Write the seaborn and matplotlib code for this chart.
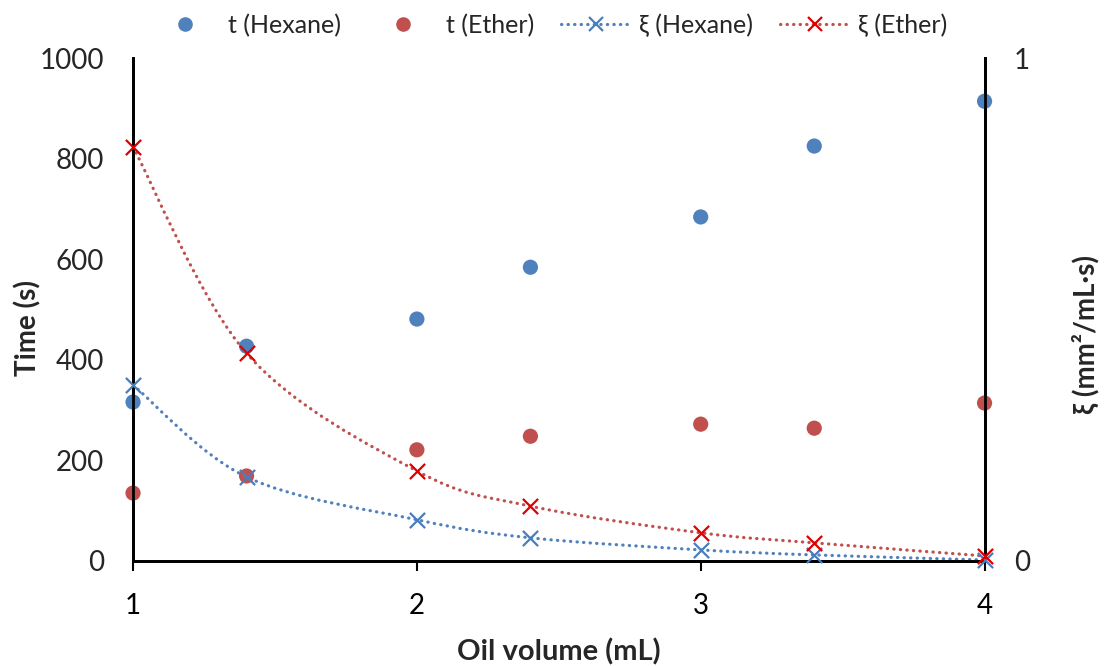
import numpy as np
import pandas as pd
import matplotlib
matplotlib.use("Agg")
import matplotlib.pyplot as plt
from matplotlib.path import Path
from matplotlib.patches import PathPatch
from matplotlib.lines import Line2D
import seaborn as sns

# Data
oil_volume = [1.0, 1.4, 2.0, 2.4, 3.0, 3.4, 4.0]
t_hexane = [316, 427, 481, 584, 684, 825, 914]
t_ether = [135, 169, 221, 248, 272, 264, 314]
xi_hexane = [0.350, 0.167, 0.082, 0.046, 0.022, 0.012, 0.002]
xi_ether = [0.823, 0.413, 0.179, 0.109, 0.056, 0.036, 0.010]

BLUE = "#4F81BD"
RED = "#C0504D"
BLUE_X = "#4A7EBB"
RED_X = "#E00000"
DOTS = (0, (0.1, 1.95))
DOT_LW = 2.3

sns.set_theme(style="white")
plt.rcParams["font.family"] = ["Lato", "DejaVu Sans"]

fig = plt.figure(figsize=(11.04, 6.66), dpi=100)
ax = fig.add_axes([0.1205, 0.1577, 0.7713, 0.7552])
ax2 = ax.twinx()

df = pd.DataFrame({"x": oil_volume, "hex": t_hexane, "eth": t_ether})
sns.scatterplot(data=df, x="x", y="hex", ax=ax, color=BLUE, s=120,
                edgecolor="none", zorder=3, clip_on=False)
sns.scatterplot(data=df, x="x", y="eth", ax=ax, color=RED, s=120,
                edgecolor="none", zorder=3, clip_on=False)


def smooth_path(xs, ys):
    """Cubic Bezier path through the points (Catmull-Rom style tangents)."""
    pts = np.column_stack([xs, ys]).astype(float)
    n = len(pts)
    verts = [pts[0]]
    codes = [Path.MOVETO]
    for i in range(n - 1):
        p0 = pts[i - 1] if i > 0 else pts[i]
        p1 = pts[i]
        p2 = pts[i + 1]
        p3 = pts[i + 2] if i + 2 < n else pts[i + 1]
        c1 = p1 + (p2 - p0) / 6.0
        c2 = p2 - (p3 - p1) / 6.0
        verts += [c1, c2, p2]
        codes += [Path.CURVE4] * 3
    return Path(verts, codes)


for ys, lc in [(xi_hexane, BLUE), (xi_ether, RED)]:
    patch = PathPatch(smooth_path(oil_volume, ys), facecolor="none",
                      edgecolor=lc, lw=DOT_LW, linestyle=DOTS,
                      capstyle="round", zorder=2)
    ax2.add_patch(patch)

ax2.scatter(oil_volume, xi_hexane, marker="x", s=120, color=BLUE_X,
            linewidths=1.6, zorder=4, clip_on=False)
ax2.scatter(oil_volume, xi_ether, marker="x", s=120, color=RED_X,
            linewidths=1.6, zorder=4, clip_on=False)

# Axes ranges and ticks
ax.set_xlim(1, 4)
ax.set_ylim(0, 1000)
ax2.set_ylim(0, 1)
ax.set_xticks([1, 2, 3, 4])
ax.set_yticks([0, 200, 400, 600, 800, 1000])
ax2.set_yticks([0, 1])
ax.tick_params(axis="x", direction="out", length=7, width=1.5, colors="black",
               labelsize=20, pad=16, bottom=True)
ax.tick_params(axis="y", length=0, labelsize=20, pad=21)
ax2.tick_params(axis="y", length=0, labelsize=20, pad=21)
for a in (ax, ax2):
    a.grid(False)
    a.spines["top"].set_visible(False)
    for s in ("left", "right", "bottom"):
        a.spines[s].set_color("black")
        a.spines[s].set_linewidth(2)
    a.set_facecolor("none")

ax.set_xlabel("Oil volume (mL)", fontsize=21, fontweight="bold", labelpad=14)
ax.set_ylabel("Time (s)", fontsize=20, fontweight="bold", va="center")
ax.yaxis.set_label_coords(-0.124, 0.463)
ax2.set_ylabel("ξ (mm²/mL·s)", fontsize=20, fontweight="bold",
               rotation=90, va="center")
ax2.yaxis.set_label_coords(1.119, 0.45)

handles = [
    Line2D([], [], ls="none", marker="o", ms=10.5, color=BLUE, mec="none"),
    Line2D([], [], ls="none", marker="o", ms=10.5, color=RED, mec="none"),
    Line2D([], [], ls=DOTS, lw=DOT_LW, color=BLUE, marker="x",
           ms=10, mew=1.6, mec=BLUE_X, dash_capstyle="round"),
    Line2D([], [], ls=DOTS, lw=DOT_LW, color=RED, marker="x",
           ms=10, mew=1.6, mec=RED_X, dash_capstyle="round"),
]
labels = ["t (Hexane)", "t (Ether)", "ξ (Hexane)", "ξ (Ether)"]
fig.legend(handles, labels, loc="center", bbox_to_anchor=(0.497, 0.962),
           ncol=4, frameon=False, fontsize=18, handlelength=2.8,
           columnspacing=1.1, handletextpad=0.3, borderpad=0.2)

fig.savefig("out.png", dpi=100)
